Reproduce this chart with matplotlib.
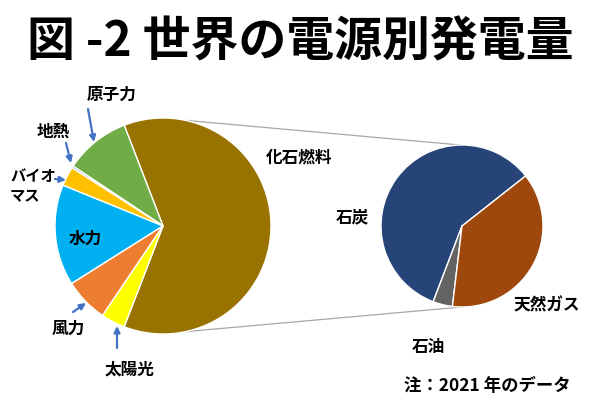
import matplotlib
matplotlib.use('Agg')
import matplotlib.pyplot as plt
import numpy as np

plt.rcParams['font.family'] = ['Noto Sans CJK JP', 'DejaVu Sans']

# 世界の電源別発電量 (2021), share in %
sources = ['化石燃料', '原子力', '地熱', 'バイオマス', '水力', '風力', '太陽光']
shares = [61.7, 9.8, 0.3, 2.9, 15.1, 6.6, 3.6]
colors = ['#997300', '#70AD47', '#5B9BD5', '#FFC000', '#00B0F0', '#ED7D31', '#FFFF00']

fossil = ['石炭', '石油', '天然ガス']
fossil_shares = [58.6, 3.9, 37.5]
fossil_colors = ['#264478', '#636363', '#9E480E']

H = 407
fig = plt.figure(figsize=(6, 4.07), dpi=100)
ax = fig.add_axes([0, 0, 1, 1])

c1, r1 = (163, H - 226), 108
c2, r2 = (462, H - 226), 81

start = -360 * shares[0] / 100 / 2
ax.pie(shares, colors=colors, startangle=start, counterclock=True,
       center=c1, radius=r1, wedgeprops=dict(edgecolor='white', linewidth=1))
ax.pie(fossil_shares, colors=fossil_colors, startangle=38.2, counterclock=True,
       center=c2, radius=r2, wedgeprops=dict(edgecolor='white', linewidth=1))

# connector lines
for a1, a2 in [(78, 91), (-78, -90)]:
    p1 = (c1[0] + r1 * np.cos(np.radians(a1)), c1[1] + r1 * np.sin(np.radians(a1)))
    p2 = (c2[0] + r2 * np.cos(np.radians(a2)), c2[1] + r2 * np.sin(np.radians(a2)))
    ax.plot([p1[0], p2[0]], [p1[1], p2[1]], color='#A6A6A6', lw=0.9, zorder=0)

ax.set_xlim(0, 600)
ax.set_ylim(0, H)
ax.axis('off')

fig.text(0.5, 1 - 42 / H, '図 -2 世界の電源別発電量', ha='center', va='center',
         fontsize=34.5, fontweight='bold')

lab = dict(fontsize=12, fontweight='bold', va='center')
ax.text(112, H - 95, sources[1], ha='center', **lab)
ax.text(53, H - 132, sources[2], ha='center', **lab)
ax.text(10, H - 186, 'バイオ\nマス', ha='left', linespacing=1.3,
        fontsize=11, fontweight='bold', va='center')
ax.text(85, H - 239, sources[4], ha='center', **lab)
ax.text(68, H - 329, sources[5], ha='center', **lab)
ax.text(130, H - 370, sources[6], ha='center', **lab)
ax.text(299, H - 158, sources[0], ha='center', **lab)
ax.text(352, H - 217, fossil[0], ha='center', **lab)
ax.text(547, H - 306, fossil[2], ha='center', **lab)
ax.text(428, H - 347, fossil[1], ha='center', **lab)
ax.text(487, H - 386, '注：2021 年のデータ', ha='center', fontsize=12.5,
        fontweight='bold', va='center')

arrows = [((88, 109), (94, 142)), ((66, 143), (71, 163)), ((55, 179), (66, 180)),
          ((73, 312), (86, 303)), ((117, 348), (117, 326))]
for (x0, y0), (x1, y1) in arrows:
    ax.annotate('', xy=(x1, H - y1), xytext=(x0, H - y0),
                arrowprops=dict(arrowstyle='-|>', color='#4472C4', lw=1.6,
                                mutation_scale=9, shrinkA=0, shrinkB=0))

fig.savefig('out.png', dpi=100)
